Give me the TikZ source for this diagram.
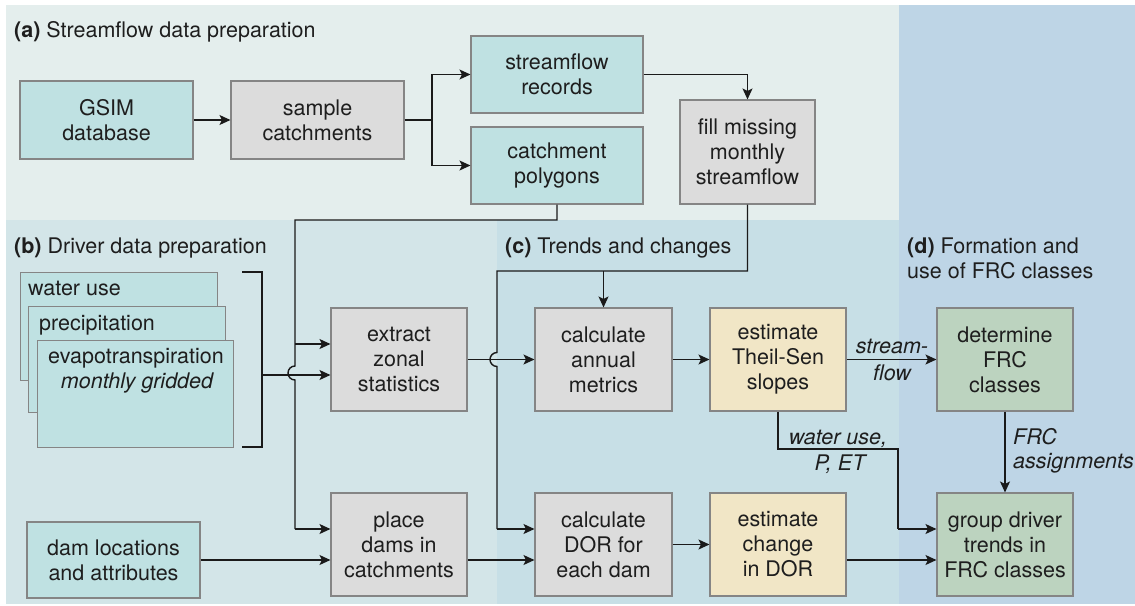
\documentclass[tikz,border=0pt]{standalone}
\usepackage{fontspec}
\setmainfont{TeX Gyre Heros}
\usetikzlibrary{arrows.meta}
\definecolor{pa}{HTML}{E4EEED}
\definecolor{pb}{HTML}{D3E5E8}
\definecolor{pc}{HTML}{C7DFE6}
\definecolor{pd}{HTML}{BED5E6}
\definecolor{bteal}{HTML}{BFE1E2}
\definecolor{bgrey}{HTML}{DCDCDC}
\definecolor{byel}{HTML}{F1E6C6}
\definecolor{bgreen}{HTML}{BCD3BF}
\definecolor{bord}{HTML}{858585}
\definecolor{txt}{HTML}{1E1E1E}
\definecolor{ln}{HTML}{1A1A1A}
\begin{document}
\begin{tikzpicture}[x=1pt,y=-1pt,
  every node/.style={font=\fontsize{21.5}{25}\selectfont, text=txt},
  box/.style={draw=bord, line width=1.1pt, minimum width=136pt, minimum height=103pt, align=center, inner sep=0pt},
  tealbox/.style={box, fill=bteal},
  greybox/.style={box, fill=bgrey},
  yelbox/.style={box, fill=byel},
  greenbox/.style={box, fill=bgreen},
  conn/.style={line width=1.4pt, draw=ln},
  arr/.style={conn, -{Stealth[length=11pt,width=10pt,inset=2.5pt]}},
  lbl/.style={font=\fontsize{21.5}{25}\selectfont\itshape, inner sep=0pt},
  ttl/.style={anchor=base west, inner sep=0pt}]
\useasboundingbox (0,0) rectangle (1135,605);
% panels
\fill[pa] (6,5) rectangle (898.5,220);
\fill[pb] (6,220) rectangle (497,604);
\fill[pc] (497,220) rectangle (898.5,604);
\fill[pd] (898.5,5) rectangle (1135,604);
% titles
\node[ttl] (ta) at (14,37.5) {\textbf{(a)} Streamflow data preparation};
\node[ttl] (tb) at (14,253) {\textbf{(b)} Driver data preparation};
\node[ttl] (tc) at (505,253) {\textbf{(c)} Trends and changes};
\node[ttl, align=left] (td) at (907,278) {\textbf{(d)} Formation and\\use of FRC classes};
% (a) nodes
\node[tealbox, minimum width=173pt, minimum height=78pt] (gsim) at (106.5,120) {GSIM\\database};
\node[greybox, minimum width=173pt, minimum height=78pt] (sample) at (317.5,120) {sample\\catchments};
\node[tealbox, minimum width=172pt, minimum height=77pt] (records) at (557,74.5) {streamflow\\records};
\node[tealbox, minimum width=172pt, minimum height=77pt] (polygons) at (557,165.5) {catchment\\polygons};
\node[greybox, minimum width=135pt, minimum height=104pt] (fill) at (747.5,152) {fill missing\\monthly\\streamflow};
% (b) stacked driver boxes
\node[tealbox, minimum width=197pt, minimum height=108pt, anchor=north west] (wu) at (20,272) {};
\node[anchor=base west, inner sep=0pt] (wut) at (28,295) {water use};
\node[tealbox, minimum width=197pt, minimum height=106pt, anchor=north west] (pr) at (28,306) {};
\node[anchor=base west, inner sep=0pt] (prt) at (39,330) {precipitation};
\node[tealbox, minimum width=196pt, minimum height=107pt, anchor=north west] (et) at (37,340) {};
\node[anchor=base, inner sep=0pt] (ett) at (136,363) {evapotranspiration};
\node[anchor=base, inner sep=0pt] (etm) at (137,388) {\itshape monthly gridded};
\node[tealbox, minimum width=173pt, minimum height=76pt] (dam) at (113.5,560) {dam locations\\and attributes};
\node[greybox] (extract) at (399,359.5) {extract\\zonal\\statistics};
\node[greybox] (place) at (399,544.5) {place\\dams in\\catchments};
% (c)
\node[greybox, minimum width=137pt] (annual) at (603.5,359.5) {calculate\\annual\\metrics};
\node[yelbox] (theil) at (778,359.5) {estimate\\Theil-Sen\\slopes};
\node[greybox, minimum width=137pt] (dor) at (603.5,544.5) {calculate\\DOR for\\each dam};
\node[yelbox] (change) at (778,544.5) {estimate\\change\\in DOR};
% (d)
\node[greenbox] (determine) at (1005,359.5) {determine\\FRC\\classes};
\node[greenbox] (group) at (1005,544.5) {group driver\\trends in\\FRC classes};
% coordinates
\coordinate (s1) at (432,120);
\coordinate (p2) at (295,220);
\coordinate (e1) at (295,344);
\coordinate (h1t) at (295,366);
\coordinate (p3) at (295,529);
\coordinate (bt0) at (242,272);
\coordinate (bt) at (262,272);
\coordinate (bm) at (262,375);
\coordinate (bb) at (262,447);
\coordinate (bb0) at (242,447);
\coordinate (f1) at (747.5,271);
\coordinate (f2) at (603.5,271);
\coordinate (f3) at (497,271);
\coordinate (h2t) at (497,352.5);
\coordinate (f4) at (497,529);
\coordinate (w1) at (898,449);
\coordinate (w2) at (898,529);
% (a) connectors
\draw[arr] (gsim) -- (sample);
\draw[conn] (sample.east) -- (s1);
\draw[arr] (s1) |- (records.west);
\draw[arr] (s1) |- (polygons.west);
\draw[arr] (records.east) -| (fill.north);
% polygons -> extract / place
\draw[conn] (polygons.south) |- (p2) -- (h1t) arc[start angle=90, end angle=270, radius=7pt] -- (p3);
\draw[arr] (p3) -- (place.west |- p3);
\draw[arr] (e1) -- (extract.west |- e1);
% bracket
\draw[conn] (bt0) -- (bt) -- (bb) -- (bb0);
\draw[arr] (bm) -- (extract.west |- bm);
\draw[arr] (dam) -- (place.west |- dam);
% fill -> annual / dor
\draw[conn] (fill.south) -- (f1) -- (f3) -- (h2t) arc[start angle=90, end angle=270, radius=7pt] -- (f4);
\draw[arr] (f4) -- (dor.west |- f4);
\draw[arr] (f2) -- (annual.north);
\draw[arr] (extract) -- (annual);
\draw[arr] (annual) -- (theil);
\draw[arr] (theil) -- (determine);
\node[lbl, anchor=base] (l1) at (892,353) {stream-};
\node[lbl, anchor=base] (l2) at (892,380) {flow};
\draw[arr] ([yshift=-15.5pt]place.east) -- ([yshift=-15.5pt]dor.west);
\draw[arr] (dor) -- (change);
\draw[arr] ([yshift=-15.5pt]change.east) -- ([yshift=-15.5pt]group.west);
\draw[conn] (theil.south) |- (w1) -- (w2);
\draw[arr] (w2) -- (group.west |- w2);
\node[lbl, anchor=base] (l3) at (838,444) {water use,};
\node[lbl, anchor=base] (l4) at (840,470) {P, ET};
\draw[arr] (determine) -- (group);
\node[lbl, anchor=base west] (l5) at (1013,444) {FRC};
\node[lbl, anchor=base west] (l6) at (1013,468) {assignments};
\end{tikzpicture}
\end{document}
